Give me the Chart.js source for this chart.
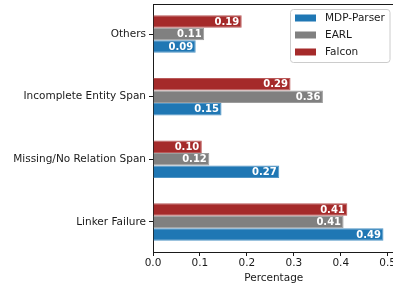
<!DOCTYPE html>
<html><head><meta charset="utf-8">
<script src="https://cdn.jsdelivr.net/npm/chart.js@4"></script>
<style>
html,body{margin:0;padding:0;overflow:hidden;background:#fff;width:393px;height:289px}
#wrap{position:relative;width:410px;height:289px}
canvas{display:block}
</style></head>
<body><div id="wrap"><canvas id="c" width="410" height="289"></canvas></div>
<script>
const categories = ['Others', 'Incomplete Entity Span', 'Missing/No Relation Span', 'Linker Failure'];
const mdpParser = [0.091, 0.146, 0.269, 0.491];
const earl = [0.109, 0.362, 0.120, 0.406];
const falcon = [0.189, 0.293, 0.104, 0.414];
const xTicks = [0.0, 0.1, 0.2, 0.3, 0.4, 0.5];
const seriesNames = ['MDP-Parser', 'EARL', 'Falcon'];
const seriesColors = ['#1f77b4', '#808080', '#a52a2a'];

const FONT = '"DejaVu Sans", sans-serif';
const TXT = '#1a1a1a';

const toPoints = arr => arr.map((v, i) => ({x: v, y: i}));
const lighten = (hex, f) => {
  const n = parseInt(hex.slice(1), 16);
  const c = [(n >> 16) & 255, (n >> 8) & 255, n & 255].map(v => Math.round(v + (255 - v) * f));
  return 'rgb(' + c.join(',') + ')';
};

// bars drawn top-to-bottom within a group: Falcon, EARL, MDP-Parser
const datasets = [
  {label: seriesNames[2], data: toPoints(falcon), backgroundColor: seriesColors[2], borderColor: lighten(seriesColors[2], 0.22)},
  {label: seriesNames[1], data: toPoints(earl), backgroundColor: seriesColors[1], borderColor: lighten(seriesColors[1], 0.22)},
  {label: seriesNames[0], data: toPoints(mdpParser), backgroundColor: seriesColors[0], borderColor: lighten(seriesColors[0], 0.22)}
].map(d => Object.assign(d, {categoryPercentage: 0.6, barPercentage: 1.0, borderWidth: 1, borderSkipped: 'start'}));

const overlay = {
  id: 'overlay',
  afterDatasetsDraw(chart) {
    const ctx = chart.ctx, a = chart.chartArea;
    ctx.save();
    // top and right spines
    ctx.strokeStyle = TXT; ctx.lineWidth = 1;
    ctx.beginPath();
    ctx.moveTo(a.left, a.top + 0.5); ctx.lineTo(a.right, a.top + 0.5);
    ctx.moveTo(a.right - 0.5, a.top); ctx.lineTo(a.right - 0.5, a.bottom);
    ctx.stroke();
    // value labels
    ctx.font = 'bold 10px ' + FONT;
    ctx.fillStyle = '#fff'; ctx.textAlign = 'right'; ctx.textBaseline = 'middle';
    chart.data.datasets.forEach((ds, i) => {
      chart.getDatasetMeta(i).data.forEach((bar, j) => {
        ctx.fillText(ds.data[j].x.toFixed(2), bar.x - 2.5, bar.y + 0.5);
      });
    });
    // legend
    const lx = 290.5, ly = 9.5, lw = 99.5, lh = 53;
    ctx.beginPath();
    ctx.roundRect(lx, ly, lw, lh, 3);
    ctx.fillStyle = 'rgba(255,255,255,0.8)'; ctx.fill();
    ctx.strokeStyle = '#cccccc'; ctx.lineWidth = 1; ctx.stroke();
    ctx.font = '10.5px ' + FONT; ctx.textAlign = 'left'; ctx.textBaseline = 'middle';
    seriesNames.forEach((name, k) => {
      const cy = 18 + k * 17;
      ctx.fillStyle = seriesColors[k];
      ctx.fillRect(295, cy - 3.5, 21, 7);
      ctx.fillStyle = TXT;
      ctx.fillText(name, 325, cy + 0.5);
    });
    ctx.restore();
  }
};

new Chart(document.getElementById('c'), {
  type: 'bar',
  data: {datasets},
  options: {
    indexAxis: 'y',
    responsive: false,
    animation: false,
    devicePixelRatio: 1,
    layout: {padding: {left: 0, top: 4, right: 15.5, bottom: 4}},
    plugins: {legend: {display: false}, tooltip: {enabled: false}},
    scales: {
      x: {
        type: 'linear', min: 0, max: 0.5145,
        afterBuildTicks: s => { s.ticks = xTicks.map(v => ({value: v})); },
        afterFit: s => { s.height = 33; s.paddingLeft = 0; s.paddingRight = 0; },
        ticks: {font: {family: FONT, size: 10.5}, color: TXT, padding: 1, maxRotation: 0,
                callback: v => Number(v).toFixed(1)},
        grid: {display: true, drawOnChartArea: false, drawTicks: true, tickLength: 4, color: TXT},
        border: {display: true, color: TXT, width: 1},
        title: {display: true, text: 'Percentage', font: {family: FONT, size: 10.5}, color: TXT, padding: {top: 1, bottom: 0}}
      },
      y: {
        type: 'linear', min: -0.48, max: 3.48, reverse: true, offset: false,
        afterBuildTicks: s => { s.ticks = categories.map((c, i) => ({value: i})); },
        afterFit: s => { s.width = 153; s.paddingTop = 0; s.paddingBottom = 0; },
        ticks: {font: {family: FONT, size: 10.5}, color: TXT, padding: 3,
                callback: v => categories[Math.round(v)]},
        grid: {display: true, drawOnChartArea: false, drawTicks: true, tickLength: 4, color: TXT, offset: false},
        border: {display: true, color: TXT, width: 1}
      }
    }
  },
  plugins: [overlay]
});
</script>
</body></html>
